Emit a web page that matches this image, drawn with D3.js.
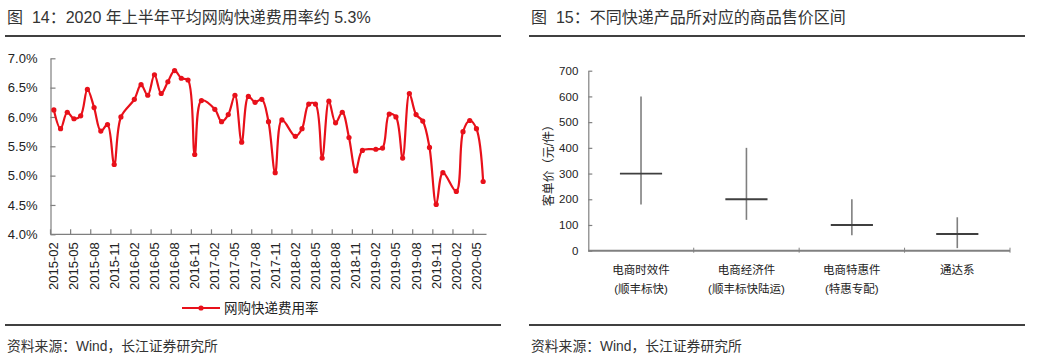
<!DOCTYPE html>
<html>
<head>
<meta charset="utf-8">
<script src="https://cdn.jsdelivr.net/npm/d3@7"></script>
<style>
  body { margin: 0; background: #fff; }
  svg { display: block; }
  text { font-family: "Liberation Sans", Arial, "Noto Sans CJK SC", sans-serif; }
</style>
</head>
<body>
<svg id="chart" width="1041" height="358"></svg>
<script>
// ---------- DATA ----------
const leftTitle = "图\u00a0\u00a014：2020 年上半年平均网购快递费用率约 5.3%";
const rightTitle = "图\u00a0\u00a015：不同快递产品所对应的商品售价区间";
const sourceText = "资料来源：Wind，长江证券研究所";

const months = [
  "2015-02","2015-03","2015-04","2015-05","2015-06","2015-07","2015-08","2015-09","2015-10","2015-11","2015-12",
  "2016-01","2016-02","2016-03","2016-04","2016-05","2016-06","2016-07","2016-08","2016-09","2016-10","2016-11","2016-12",
  "2017-01","2017-02","2017-03","2017-04","2017-05","2017-06","2017-07","2017-08","2017-09","2017-10","2017-11","2017-12",
  "2018-01","2018-02","2018-03","2018-04","2018-05","2018-06","2018-07","2018-08","2018-09","2018-10","2018-11","2018-12",
  "2019-01","2019-02","2019-03","2019-04","2019-05","2019-06","2019-07","2019-08","2019-09","2019-10","2019-11","2019-12",
  "2020-01","2020-02","2020-03","2020-04","2020-05","2020-06"
];
// 网购快递费用率 (%), January has no value
const expressRate = [
  6.12,5.80,6.08,5.97,6.02,6.47,6.16,5.76,5.87,5.19,6.00,
  null,6.30,6.55,6.37,6.72,6.40,6.60,6.79,6.66,6.63,5.36,6.28,
  null,6.13,5.92,6.04,6.37,5.57,6.35,6.25,6.30,5.92,5.05,5.95,
  null,5.67,5.80,6.22,6.22,5.30,6.27,5.90,6.08,5.65,5.08,5.43,
  null,5.45,5.47,6.05,6.00,5.30,6.40,6.04,5.93,5.48,4.51,5.05,
  null,4.73,5.75,5.94,5.80,4.90
];
const xTickLabels = [
  "2015-02","2015-05","2015-08","2015-11","2016-02","2016-05","2016-08","2016-11",
  "2017-02","2017-05","2017-08","2017-11","2018-02","2018-05","2018-08","2018-11",
  "2019-02","2019-05","2019-08","2019-11","2020-02","2020-05"
];
const leftYTicks = [4.0,4.5,5.0,5.5,6.0,6.5,7.0];
const seriesName = "网购快递费用率";

const products = ["电商时效件","电商经济件","电商特惠件","通达系"];
const productSub = ["(顺丰标快)","(顺丰标快陆运)","(特惠专配)",""];
const priceLow  = [180, 120, 60, 10];
const priceHigh = [600, 400, 200, 130];
const priceMid  = [300, 200, 100, 65];
const rightYTicks = [0,100,200,300,400,500,600,700];
const rightYTitle = "客单价（元/件）";

// ---------- DRAW ----------
const svg = d3.select("#chart");
svg.append("rect").attr("width",1041).attr("height",358).attr("fill","#fff");

function frame(x0, x1, title) {
  svg.append("text").attr("x", x0 + 2).attr("y", 23).attr("font-size", 16).attr("fill", "#333").text(title);
  svg.append("line").attr("x1", x0).attr("x2", x1).attr("y1", 36).attr("y2", 36).attr("stroke", "#000").attr("stroke-width", 1.6);
  svg.append("line").attr("x1", x0).attr("x2", x1).attr("y1", 325).attr("y2", 325).attr("stroke", "#000").attr("stroke-width", 1.3);
  svg.append("text").attr("x", x0 + 2).attr("y", 351).attr("font-size", 13.8).attr("fill", "#333").text(sourceText);
}
frame(5, 501, leftTitle);
frame(529, 1025, rightTitle);

// ---- Left chart ----
const xL = d3.scaleBand().domain(months).range([50.5, 486.5]).padding(0);
const yL = d3.scaleLinear().domain([4, 7]).range([234.3, 58.3]);
const cx = m => xL(m) + xL.bandwidth() / 2;
const axisColor = "#7f7f7f";

const gyL = svg.append("g").attr("transform", `translate(${xL.range()[0]},0)`)
  .call(d3.axisLeft(yL).tickValues(leftYTicks).tickSizeInner(-5).tickSizeOuter(0).tickPadding(13)
    .tickFormat(d => d.toFixed(1) + "%"));
gyL.select(".domain").attr("stroke", axisColor).attr("stroke-width", 1.2);
gyL.selectAll(".tick line").attr("stroke", axisColor).attr("stroke-width", 1.2);
gyL.selectAll(".tick text").attr("font-size", 13).attr("fill", "#222")
  .attr("font-family", "'Liberation Sans', Arial, sans-serif");

// x axis line
svg.append("line").attr("x1", xL.range()[0]).attr("x2", xL.range()[1])
  .attr("y1", yL(4)).attr("y2", yL(4)).attr("stroke", axisColor).attr("stroke-width", 1.2);
// ticks at boundaries of labelled categories (inside)
svg.append("g").selectAll("line").data(xTickLabels).join("line")
  .attr("x1", d => xL(d)).attr("x2", d => xL(d))
  .attr("y1", yL(4)).attr("y2", yL(4) - 5)
  .attr("stroke", axisColor).attr("stroke-width", 1.2);
// rotated labels
svg.append("g").selectAll("text").data(xTickLabels).join("text")
  .attr("transform", d => `translate(${cx(d) + 4.5},${yL(4) + 8}) rotate(-90)`)
  .attr("text-anchor", "end").attr("font-size", 13).attr("fill", "#222")
  .text(d => d);

// series
const pts = months.map((m, i) => ({ m, v: expressRate[i] })).filter(d => d.v !== null);
const red = "#e8101a";
svg.append("path").datum(pts)
  .attr("d", d3.line().x(d => cx(d.m)).y(d => yL(d.v)).curve(d3.curveCatmullRom.alpha(0.5)))
  .attr("fill", "none").attr("stroke", red).attr("stroke-width", 2.2);
svg.append("g").selectAll("circle").data(pts).join("circle")
  .attr("cx", d => cx(d.m)).attr("cy", d => yL(d.v)).attr("r", 2.6).attr("fill", red);

// legend
svg.append("line").attr("x1", 182).attr("x2", 220).attr("y1", 308).attr("y2", 308).attr("stroke", red).attr("stroke-width", 2);
svg.append("circle").attr("cx", 201).attr("cy", 308).attr("r", 2.6).attr("fill", red);
svg.append("text").attr("x", 224).attr("y", 313).attr("font-size", 13.5).attr("fill", "#222").text(seriesName);

// ---- Right chart ----
const xR = d3.scaleBand().domain(products).range([588.3, 1010]).padding(0);
const yR = d3.scaleLinear().domain([0, 700]).range([250.7, 70.7]);
const ccx = p => xR(p) + xR.bandwidth() / 2;

const gyR = svg.append("g").attr("transform", `translate(${xR.range()[0]},0)`)
  .call(d3.axisLeft(yR).tickValues(rightYTicks).tickSizeInner(-4).tickSizeOuter(0).tickPadding(10));
gyR.select(".domain").attr("stroke", "#808080").attr("stroke-width", 1.2);
gyR.selectAll(".tick line").attr("stroke", "#808080").attr("stroke-width", 1.2);
gyR.selectAll(".tick text").attr("font-size", 11.5).attr("fill", "#222")
  .attr("font-family", "'Liberation Sans', Arial, sans-serif");

svg.append("line").attr("x1", xR.range()[0]).attr("x2", xR.range()[1])
  .attr("y1", yR(0)).attr("y2", yR(0)).attr("stroke", "#808080").attr("stroke-width", 2);
svg.append("g").selectAll("line").data(products.slice(1).concat([null])).join("line")
  .attr("x1", d => d ? xR(d) : xR.range()[1]).attr("x2", d => d ? xR(d) : xR.range()[1])
  .attr("y1", yR(0) - 3).attr("y2", yR(0) + 2).attr("stroke", "#808080").attr("stroke-width", 1);

svg.append("text")
  .attr("transform", `translate(${553},${yR(350) + 2}) rotate(-90)`)
  .attr("text-anchor", "middle").attr("font-size", 12).attr("fill", "#222").text(rightYTitle);

const gR = svg.append("g");
products.forEach((p, i) => {
  gR.append("line").attr("x1", ccx(p)).attr("x2", ccx(p))
    .attr("y1", yR(priceHigh[i])).attr("y2", yR(priceLow[i]))
    .attr("stroke", "#7f7f7f").attr("stroke-width", 1.6);
  gR.append("line").attr("x1", ccx(p) - xR.bandwidth() * 0.2).attr("x2", ccx(p) + xR.bandwidth() * 0.2)
    .attr("y1", yR(priceMid[i])).attr("y2", yR(priceMid[i]))
    .attr("stroke", "#3f3f3f").attr("stroke-width", 1.8);
});

svg.append("g").selectAll("text").data(products).join("text")
  .attr("x", d => ccx(d)).attr("y", 274).attr("text-anchor", "middle")
  .attr("font-size", 11.5).attr("fill", "#222").text(d => d);
svg.append("g").selectAll("text").data(productSub).join("text")
  .attr("x", (d, i) => ccx(products[i])).attr("y", 293).attr("text-anchor", "middle")
  .attr("font-size", 11.5).attr("fill", "#222").text(d => d);
</script>
</body>
</html>
